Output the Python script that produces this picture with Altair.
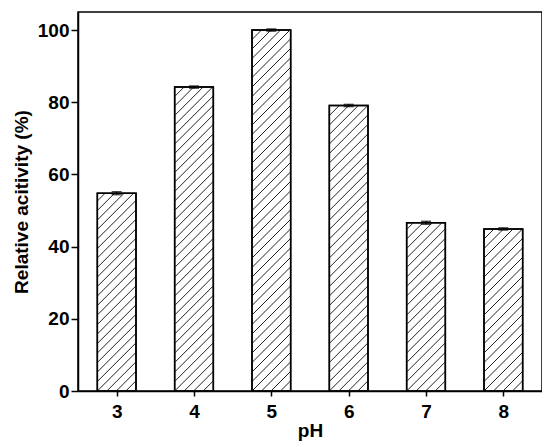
import altair as alt
import pandas as pd
import numpy as np

ph = [3, 4, 5, 6, 7, 8]
activity = [54.8, 84.2, 100.0, 79.1, 46.6, 44.9]
err = [0.4, 0.3, 0.3, 0.3, 0.4, 0.3]

W, H = 464, 379
XMIN, XMAX = 2.5, 8.5
YMAX = 105
HALF = 0.25
px_x = W / (XMAX - XMIN)
px_y = H / YMAX
SP = 9.5  # hatch spacing in px

df = pd.DataFrame({"pH": ph, "act": activity, "err": err})
df["lo"] = df["act"] - df["err"]
df["hi"] = df["act"] + df["err"]

# hatch segments derived from bar values
rows = []
for p, v in zip(ph, activity):
    bw = 2 * HALF * px_x
    bh = v * px_y
    k = -int(np.ceil(bw / SP))
    while k * SP < bh:
        b = k * SP
        u0 = max(0.0, -b)
        u1 = min(bw, bh - b)
        if u1 > u0:
            rows.append({
                "x": p - HALF + u0 / px_x, "y": (u0 + b) / px_y,
                "x2": p - HALF + u1 / px_x, "y2": (u1 + b) / px_y,
            })
        k += 1
hatch = pd.DataFrame(rows)

xs = alt.Scale(domain=[XMIN, XMAX], nice=False, zero=False)
ys = alt.Scale(domain=[0, YMAX], nice=False)

base = alt.Chart(df)

bars = base.transform_calculate(
    x0=f"datum.pH - {HALF}", x1=f"datum.pH + {HALF}"
).mark_rect(fill="white", stroke="black", strokeWidth=1.5).encode(
    x=alt.X("x0:Q", scale=xs, title="pH",
            axis=alt.Axis(values=ph, format="d", grid=False)),
    x2="x1:Q",
    y=alt.Y("act:Q", scale=ys, title="Relative acitivity (%)",
            axis=alt.Axis(values=[0, 20, 40, 60, 80, 100], grid=False)),
    y2=alt.datum(0),
)

hatch_layer = alt.Chart(hatch).mark_rule(color="#222", strokeWidth=1).encode(
    x=alt.X("x:Q", scale=xs), y=alt.Y("y:Q", scale=ys),
    x2="x2:Q", y2="y2:Q",
)

outline = base.transform_calculate(
    x0=f"datum.pH - {HALF}", x1=f"datum.pH + {HALF}"
).mark_rect(fill=None, filled=False, stroke="black", strokeWidth=1.5).encode(
    x=alt.X("x0:Q", scale=xs), x2="x1:Q",
    y=alt.Y("act:Q", scale=ys), y2=alt.datum(0),
)

ebar = base.mark_rule(color="black", strokeWidth=1.5).encode(
    x=alt.X("pH:Q", scale=xs), y=alt.Y("lo:Q", scale=ys), y2="hi:Q"
)
cap_lo = base.mark_tick(color="black", thickness=1.5, size=10, orient="horizontal").encode(
    x=alt.X("pH:Q", scale=xs), y=alt.Y("lo:Q", scale=ys)
)
cap_hi = base.mark_tick(color="black", thickness=1.5, size=10, orient="horizontal").encode(
    x=alt.X("pH:Q", scale=xs), y=alt.Y("hi:Q", scale=ys)
)

chart = alt.layer(bars, hatch_layer, outline, ebar, cap_lo, cap_hi).properties(
    width=W, height=H,
    autosize=alt.AutoSizeParams(type="none"),
    padding={"left": 70, "top": 4, "right": 0, "bottom": 54},
).configure_view(
    stroke="black", strokeWidth=1.5
).configure_axis(
    domainColor="black", domainWidth=1.5, tickColor="black", tickWidth=1.5,
    labelFont="Liberation Sans", labelFontWeight="bold", labelFontSize=19, labelColor="black",
    titleFont="Liberation Sans", titleFontWeight="bold", titleFontSize=19, titleColor="black",
).configure_axisY(
    tickSize=7, labelPadding=2, titlePadding=6
).configure_axisX(
    tickSize=5, labelPadding=6, titlePadding=0
)

chart.save("out.html", embed_options={"renderer": "svg", "actions": False})
